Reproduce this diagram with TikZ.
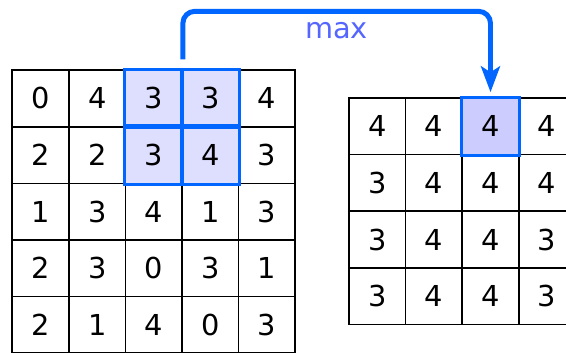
\documentclass[tikz,border=0pt]{standalone}
\usepackage{fontspec}
\setmainfont{DejaVu Sans}
\usetikzlibrary{arrows.meta}

\definecolor{poolblue}{RGB}{0,102,255}
\definecolor{maxblue}{RGB}{85,102,255}
\definecolor{windowfill}{RGB}{222,222,255}
\definecolor{pickfill}{RGB}{204,204,255}

\tikzset{
  cell/.style={draw, line width=0.8pt, minimum size=1cm, inner sep=0pt,
    font=\fontsize{14.5}{16}\selectfont},
  window/.style={cell, fill=windowfill},
  pick/.style={cell, fill=pickfill},
  frame/.style={draw=poolblue, line width=1.5pt},
  flow/.style={poolblue, line width=2.5pt, rounded corners=6pt,
    -{Stealth[length=13pt, width=9.5pt, inset=3pt]}},
}

\begin{document}
\begin{tikzpicture}
\useasboundingbox (0,0) rectangle (10,6.22);
% input map, 2x2 window in the top rows
\foreach \row [count=\r from 0] in {{0,4,3,3,4},{2,2,3,4,3},{1,3,4,1,3},{2,3,0,3,1},{2,1,4,0,3}} {
  \foreach \v [count=\c from 0] in \row {
    \def\kind{cell}
    \ifnum\r<2 \ifnum\c>1 \ifnum\c<4 \def\kind{window}\fi\fi\fi
    \node[\kind] (in-\r-\c) at (0.717+\c, 4.48-\r) {\v};
  }
}
\foreach \n in {in-0-2,in-0-3,in-1-2,in-1-3}
  \draw[frame] (\n.north west) rectangle (\n.south east);

% pooled map
\foreach \row [count=\r from 0] in {{4,4,4,4},{3,4,4,4},{3,4,4,3},{3,4,4,3}} {
  \foreach \v [count=\c from 0] in \row {
    \def\kind{cell}
    \ifnum\r=0 \ifnum\c=2 \def\kind{pick}\fi\fi
    \node[\kind] (out-\r-\c) at (6.666+\c, 3.988-\r) {\v};
  }
}
\draw[frame] (out-0-2.north west) rectangle (out-0-2.south east);

% pooling step
\draw[flow] ([yshift=5pt]in-0-2.north east) -- ++(0,0.85) -| ([yshift=2.5pt]out-0-2.north);
\node[text=maxblue, font=\fontsize{14.5}{16}\selectfont] (op) at (5.945,5.67) {max};
\end{tikzpicture}
\end{document}
